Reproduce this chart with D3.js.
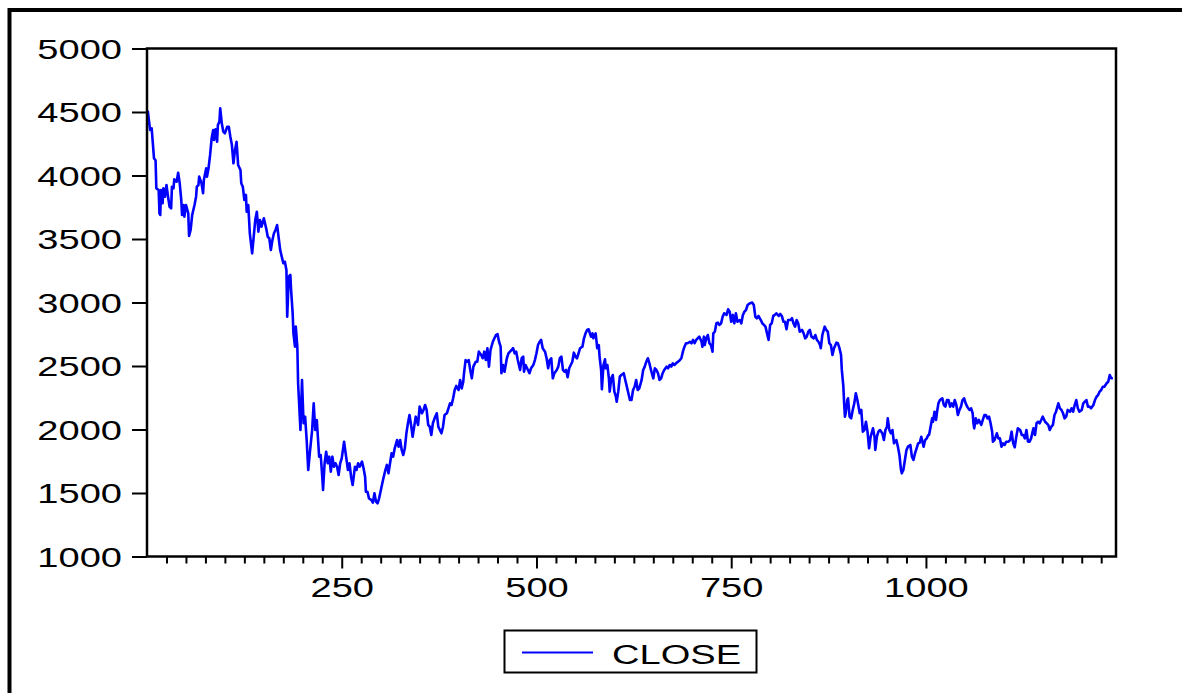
<!DOCTYPE html>
<html>
<head>
<meta charset="utf-8">
<script src="https://cdn.jsdelivr.net/npm/d3@7/dist/d3.min.js"></script>
<style>
  html, body { margin: 0; padding: 0; background: #fff; }
  svg { display: block; }
  text { font-family: "Liberation Sans", Arial, sans-serif; fill: #000; }
</style>
</head>
<body>
<svg id="chart" width="1182" height="693"></svg>
<script>
// Observation numbers of the CLOSE series
const observations = [
  1,4,6,9,11,12,15,16,17,18,
  20,21,23,25,27,29,31,32,34,35,
  38,40,42,44,45,47,48,50,53,54,
  56,58,61,63,64,66,67,70,72,73,
  76,77,79,81,83,85,86,88,90,91,
  93,94,96,98,100,103,105,107,109,111,
  113,115,117,120,121,123,125,127,128,130,
  132,135,137,139,141,143,145,147,150,153,
  155,157,159,161,163,165,167,171,173,175,
  177,179,180,182,184,185,187,188,190,191,
  193,194,197,199,201,203,205,207,209,212,
  214,216,218,221,223,225,226,228,230,232,
  234,236,238,240,242,244,246,248,250,253,
  255,258,260,262,264,267,269,271,273,276,
  278,280,281,283,285,288,290,292,294,296,
  298,301,303,306,308,310,312,314,316,318,
  321,323,325,327,329,331,333,335,337,339,
  341,343,345,348,350,353,355,357,359,361,
  363,365,367,370,372,374,376,378,380,382,
  385,387,389,391,393,395,397,400,402,404,
  406,407,409,411,413,415,417,419,422,424,
  426,429,431,433,435,437,439,441,444,446,
  448,450,452,454,455,457,459,462,464,466,
  468,470,472,474,476,479,481,483,484,486,
  488,491,493,496,498,500,502,504,506,508,
  511,513,515,517,519,521,523,526,528,530,
  532,534,536,538,540,542,544,546,548,550,
  552,554,556,559,561,563,565,567,570,572,
  573,576,578,580,581,583,584,586,588,589,
  591,593,594,596,598,600,602,603,605,607,
  609,612,614,615,617,620,622,624,626,628,
  630,632,635,637,639,641,643,645,647,650,
  652,654,656,658,660,662,664,667,669,671,
  673,675,677,680,682,684,686,688,690,692,
  694,697,699,701,703,705,707,709,712,713,
  715,716,718,720,722,724,726,727,729,731,
  733,735,737,739,741,744,746,748,750,752,
  754,756,758,761,763,765,767,769,771,774,
  777,779,781,783,785,788,790,792,794,796,
  798,800,802,804,806,808,811,813,815,817,
  819,821,823,826,828,830,832,834,836,838,
  841,843,845,847,849,851,853,856,858,860,
  862,864,865,867,870,872,874,876,878,880,
  882,885,887,889,891,892,894,895,896,897,
  899,900,902,904,906,908,910,912,915,917,
  919,921,923,925,927,929,932,934,935,937,
  939,941,944,946,948,950,951,953,955,957,
  959,962,964,966,968,969,971,973,975,977,
  980,982,984,986,988,990,992,994,997,999,
  1001,1003,1004,1006,1008,1009,1011,1013,1014,1016,
  1018,1021,1023,1025,1027,1029,1031,1033,1035,1037,
  1039,1041,1043,1045,1047,1049,1051,1053,1056,1058,
  1060,1061,1062,1064,1066,1068,1071,1073,1075,1077,
  1079,1081,1083,1085,1086,1088,1091,1093,1095,1097,
  1099,1101,1103,1106,1108,1110,1112,1114,1116,1118,
  1121,1123,1125,1127,1129,1131,1133,1135,1138,1140,
  1142,1144,1146,1148,1150,1153,1155,1157,1159,1161,
  1163,1165,1167,1170,1172,1174,1176,1178,1180,1182,
  1185,1187,1189,1191,1193,1195,1197,1200,1202,1204,
  1206,1208,1210,1212,1215,1217,1219,1221,1223,1225,
  1227,1229,1232,1234,1236,1238,1240
];

// Closing values at those observations
const closeValues = [
  4510,4358,4372,4135,4120,3899,3886,3702,3689,3886,
  3781,3899,3833,3925,3833,3754,3742,3912,3899,3970,
  3951,4022,3939,3807,3689,3768,3676,3768,3702,3524,
  3571,3689,3768,3833,3912,3925,3991,3939,3860,3965,
  4057,3991,4057,4162,4293,4358,4280,4364,4266,4398,
  4424,4529,4411,4345,4332,4384,4384,4306,4240,4096,
  4201,4266,4083,4043,3939,3912,3807,3847,3715,3768,
  3545,3387,3518,3650,3715,3558,3650,3597,3663,3584,
  3518,3506,3413,3492,3545,3571,3610,3413,3361,3309,
  3321,3256,2888,3203,3217,3098,2915,2757,2652,2810,
  2652,2364,1996,2390,2049,2101,1917,1681,1813,1996,
  2206,1996,2075,1786,1799,1628,1524,1734,1825,1734,
  1786,1668,1786,1707,1734,1707,1642,1734,1773,1904,
  1813,1681,1734,1628,1563,1707,1681,1734,1707,1747,
  1695,1628,1510,1510,1458,1445,1424,1498,1432,1419,
  1458,1545,1602,1681,1721,1655,1734,1813,1786,1852,
  1917,1865,1917,1839,1799,1852,1970,2049,2114,2036,
  1943,2022,2101,2036,2180,2128,2154,2193,2154,2036,
  2022,1957,2049,2101,2128,2022,1996,1970,2022,2114,
  2128,2167,2206,2193,2246,2311,2343,2311,2390,2324,
  2376,2443,2547,2534,2547,2469,2403,2495,2534,2534,
  2613,2587,2561,2613,2547,2640,2495,2626,2691,2718,
  2744,2752,2691,2652,2443,2508,2455,2561,2600,2613,
  2626,2640,2600,2613,2547,2469,2561,2574,2455,2508,
  2482,2443,2482,2508,2547,2600,2665,2691,2705,2640,
  2613,2561,2482,2547,2561,2403,2443,2469,2495,2561,
  2574,2469,2455,2469,2411,2482,2508,2534,2605,2574,
  2561,2600,2640,2652,2718,2757,2784,2789,2731,2757,
  2718,2757,2640,2665,2574,2469,2317,2508,2553,2482,
  2508,2403,2298,2403,2429,2298,2258,2219,2298,2416,
  2429,2443,2390,2364,2311,2232,2232,2311,2337,2390,
  2311,2324,2390,2469,2495,2534,2561,2521,2469,2403,
  2482,2469,2443,2390,2403,2443,2469,2495,2482,2508,
  2495,2521,2508,2526,2534,2547,2561,2613,2652,2679,
  2679,2691,2679,2705,2679,2705,2718,2731,2691,2652,
  2731,2665,2718,2744,2679,2665,2613,2757,2770,2836,
  2841,2823,2836,2888,2915,2902,2947,2928,2849,2902,
  2836,2915,2849,2862,2836,2902,2928,2941,2980,2994,
  2999,2980,2888,2876,2894,2862,2836,2823,2810,2757,
  2705,2823,2836,2894,2902,2915,2894,2910,2894,2849,
  2849,2789,2862,2862,2876,2836,2810,2862,2836,2770,
  2784,2757,2718,2731,2770,2784,2731,2718,2744,2705,
  2691,2665,2640,2744,2810,2784,2770,2679,2665,2587,
  2640,2684,2679,2640,2587,2469,2337,2206,2101,2128,
  2232,2246,2101,2088,2154,2206,2285,2232,2128,2154,
  1983,1996,2061,1983,1852,1943,2009,1943,1839,1943,
  1983,1996,1970,1917,1996,2022,2088,1996,1970,1996,
  1891,1917,1865,1799,1681,1655,1681,1760,1839,1865,
  1878,1786,1760,1813,1852,1891,1896,1943,1865,1917,
  1930,1957,1957,2022,2088,2061,2140,2075,2128,2206,
  2232,2246,2193,2180,2232,2232,2180,2206,2180,2232,
  2193,2114,2154,2180,2232,2246,2206,2180,2154,2167,
  2128,2049,2009,2088,2049,2075,2036,2075,2114,2114,
  2088,2101,2049,1983,1904,1917,1970,1930,1930,1865,
  1891,1878,1904,1904,1917,1983,1891,1860,1943,2009,
  1996,1957,1957,1930,1996,1904,1904,1930,2009,1957,
  2049,2061,2049,2075,2101,2061,2049,2036,1996,2022,
  2036,2114,2140,2206,2167,2154,2128,2088,2101,2154,
  2140,2167,2140,2193,2232,2167,2140,2154,2206,2219,
  2232,2180,2180,2167,2193,2232,2258,2271,2298,2311,
  2337,2337,2364,2376,2429,2403,2403
];

const seriesName = "CLOSE";
const yTicks = [1000, 1500, 2000, 2500, 3000, 3500, 4000, 4500, 5000];
const xMajorTicks = [250, 500, 750, 1000];
const xMinorTicks = d3.range(25, 1250, 25).filter(v => v % 250 !== 0);
const obsDomain = [0, 1244];
const valueDomain = [1000, 5000];

const svg = d3.select("#chart");
const plot = { left: 147, right: 1116, top: 48.5, bottom: 556.5 };
const textStretch = 1.41;
const fontSize = 27;

const x = d3.scaleLinear().domain(obsDomain).range([plot.left, plot.right]);
const y = d3.scaleLinear().domain(valueDomain).range([plot.bottom, plot.top]);

// Outer frame (left and top edges only show in the window)
svg.append("path")
  .attr("d", `M9.5,${693} V10 H1182`)
  .attr("fill", "none")
  .attr("stroke", "#000")
  .attr("stroke-width", 4);

// Y axis
const yAxis = svg.append("g")
  .attr("transform", `translate(${plot.left},0)`)
  .call(d3.axisLeft(y).tickValues(yTicks).tickSize(15).tickPadding(0).tickFormat(d3.format("d")));
yAxis.select(".domain").remove();
yAxis.selectAll(".tick line").attr("stroke", "#000").attr("stroke-width", 2);
yAxis.selectAll(".tick text")
  .attr("x", 0).attr("dy", null).attr("y", 0)
  .attr("text-anchor", "end")
  .attr("font-size", fontSize)
  .attr("transform", `translate(-25,9.5) scale(${textStretch},1)`);

// X axis: minor ticks
svg.append("g")
  .attr("transform", `translate(0,${plot.bottom})`)
  .call(d3.axisBottom(x).tickValues(xMinorTicks).tickSize(7).tickFormat(""))
  .call(g => g.select(".domain").remove())
  .call(g => g.selectAll(".tick line").attr("stroke", "#000").attr("stroke-width", 2));

// X axis: major ticks with labels
const xAxis = svg.append("g")
  .attr("transform", `translate(0,${plot.bottom})`)
  .call(d3.axisBottom(x).tickValues(xMajorTicks).tickSize(12).tickFormat(d3.format("d")));
xAxis.select(".domain").remove();
xAxis.selectAll(".tick line").attr("stroke", "#000").attr("stroke-width", 2);
xAxis.selectAll(".tick text")
  .attr("x", 0).attr("y", 0).attr("dy", null)
  .attr("text-anchor", "middle")
  .attr("font-size", fontSize)
  .attr("transform", `translate(0,40) scale(${textStretch},1)`);

// CLOSE series
const data = observations.map((o, i) => ({ obs: o, close: closeValues[i] }));
const line = d3.line().x(d => x(d.obs)).y(d => y(d.close));
svg.append("path")
  .datum(data)
  .attr("d", line)
  .attr("fill", "none")
  .attr("stroke", "#0000ff")
  .attr("stroke-width", 2.6)
  .attr("stroke-linejoin", "round");

// Plot frame
svg.append("rect")
  .attr("x", plot.left).attr("y", plot.top)
  .attr("width", plot.right - plot.left).attr("height", plot.bottom - plot.top)
  .attr("fill", "none").attr("stroke", "#000").attr("stroke-width", 2.5);

// Legend
const legend = svg.append("g");
legend.append("rect")
  .attr("x", 504.5).attr("y", 630.5).attr("width", 252).attr("height", 42)
  .attr("fill", "#fff").attr("stroke", "#000").attr("stroke-width", 2);
legend.append("line")
  .attr("x1", 522).attr("x2", 593).attr("y1", 652.5).attr("y2", 652.5)
  .attr("stroke", "#0000ff").attr("stroke-width", 1.8);
legend.append("text")
  .attr("font-size", fontSize)
  .attr("transform", `translate(612,664) scale(${textStretch},1)`)
  .text(seriesName);
</script>
</body>
</html>
